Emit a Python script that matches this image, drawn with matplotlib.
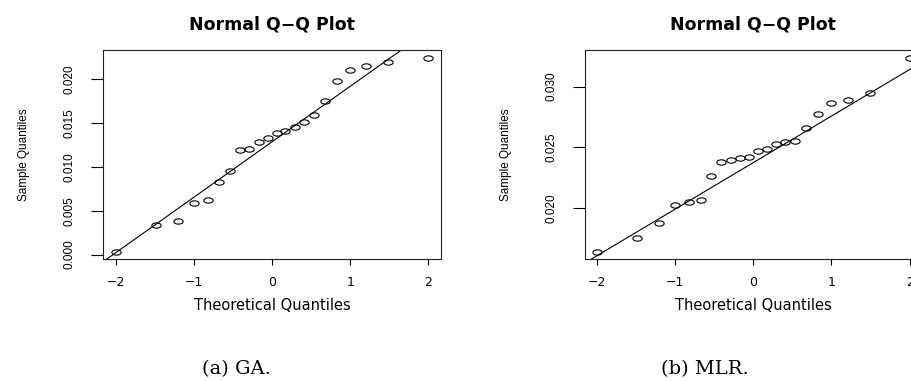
import numpy as np
import matplotlib
matplotlib.use("Agg")
import matplotlib.pyplot as plt
from matplotlib.path import Path
from matplotlib.transforms import Affine2D
from matplotlib.ticker import MultipleLocator, FormatStrFormatter

# Theoretical normal quantiles for n = 22 observations
theoretical = [-2.0004, -1.4899, -1.2079, -0.9985, -0.8255, -0.6745, -0.5375,
               -0.4096, -0.2888, -0.1717, -0.0570, 0.0570, 0.1717, 0.2888,
               0.4096, 0.5375, 0.6745, 0.8255, 0.9985, 1.2079, 1.4899, 2.0004]

# Sorted sample quantiles of each method
ga_sample = [0.00034, 0.00334, 0.00383, 0.00592, 0.00626, 0.00831, 0.00949,
             0.01199, 0.01207, 0.01290, 0.01328, 0.01385, 0.01408, 0.01461,
             0.01514, 0.01598, 0.01753, 0.01981, 0.02110, 0.02152, 0.02193,
             0.02247]
mlr_sample = [0.01644, 0.01756, 0.01879, 0.02025, 0.02049, 0.02068, 0.02268,
              0.02384, 0.02400, 0.02414, 0.02419, 0.02474, 0.02485, 0.02532,
              0.02548, 0.02556, 0.02660, 0.02778, 0.02868, 0.02893, 0.02951,
              0.03238]

panel_title = "Normal Q\u2212Q Plot"
x_label = "Theoretical Quantiles"
y_label = "Sample Quantiles"
captions = ["(a) GA.", "(b) MLR."]
x_ticks_step = 1
y_ticks_step = 0.005

NORMAL_QUARTILE = 0.6745  # qnorm(0.75)

plt.rcParams["font.family"] = "DejaVu Sans"
vertical_font = "Liberation Sans"

# open ellipse marker (circles look stretched horizontally)
ellipse = Path.unit_circle().transformed(Affine2D().scale(1.75, 1.0))

fig = plt.figure(figsize=(9.12, 3.81), dpi=100)
positions = [[0.1133, 0.3194, 0.37, 0.5494], [0.6411, 0.3194, 0.37, 0.5494]]
caption_x = [236 / 912, 705 / 912]

for pos, sample, cap, cx in zip(positions, [ga_sample, mlr_sample], captions, caption_x):
    ax = fig.add_axes(pos)
    ax.plot(theoretical, sample, linestyle="none", marker=ellipse,
            markersize=6.7, markerfacecolor="none", markeredgecolor="black",
            markeredgewidth=0.8)
    q1, q3 = np.quantile(sample, [0.25, 0.75])
    ax.axline((-NORMAL_QUARTILE, q1), (NORMAL_QUARTILE, q3), color="black",
              linewidth=0.8)
    ax.margins(0.04)

    ax.xaxis.set_major_locator(MultipleLocator(x_ticks_step))
    ax.yaxis.set_major_locator(MultipleLocator(y_ticks_step))
    ax.yaxis.set_major_formatter(FormatStrFormatter("%.3f"))

    ax.tick_params(axis="x", length=4.3, width=0.8, pad=8, labelsize=9)
    ax.tick_params(axis="y", length=8.4, width=0.8, pad=11.5, labelsize=8.5,
                   labelrotation=90, labelfontfamily=vertical_font)
    for lab in ax.get_yticklabels():
        lab.set_verticalalignment("center")

    for sp in ax.spines.values():
        sp.set_linewidth(0.8)
        sp.set_color("#222222")

    ax.set_title(panel_title, fontsize=12.5, fontweight="bold", pad=15)
    ax.set_xlabel(x_label, fontsize=10.5, labelpad=6)
    ax.set_ylabel(y_label, fontsize=8.5, labelpad=24, family=vertical_font)

    fig.text(cx, 1 - 369 / 381, cap, ha="center", va="center",
             fontsize=14, family="DejaVu Serif")

fig.savefig("out.png", dpi=100)
